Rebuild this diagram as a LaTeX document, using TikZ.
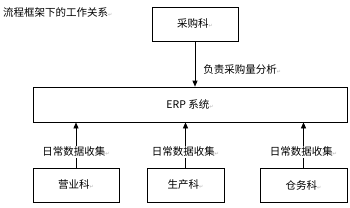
\documentclass[tikz,border=0pt]{standalone}
\usepackage{fontspec}
\setmainfont{Noto Sans CJK SC}
\newfontfamily\markfont{DejaVu Sans}
\usetikzlibrary{arrows.meta, positioning}

\newcommand{\retmk}{{\markfont\color{gray!60}\fontsize{5}{5}\selectfont ↵}}

\begin{document}
\begin{tikzpicture}[x=1pt,y=-1pt,
  dept/.style={rectangle,draw=black,line width=0.7pt, minimum width=86pt,minimum height=34pt,inner sep=0pt,align=center,font=\fontsize{10.5}{12}\selectfont},
  sys/.style={rectangle,draw=black,line width=0.7pt, minimum width=314pt,minimum height=35pt,inner sep=0pt,font=\fontsize{10.5}{12}\selectfont},
  lbl/.style={font=\fontsize{10.5}{12}\selectfont,inner sep=1pt},
  flow/.style={-{Triangle[length=6pt,width=5pt]},line width=0.7pt}
]
  \useasboundingbox (0,0) rectangle (350,207);
  \node[lbl,anchor=west](title) at (2,12) {流程框架下的工作关系\retmk};
  \node[dept](cg)  at (195,24)    {采购科\retmk};
  \node[sys](erp)  at (190,104.5) {ERP 系统\retmk};
  \node[dept](yy)  at (76,185)    {营业科\retmk};
  \node[dept, minimum width=77pt](sc) at (185.5,185) {生产科\retmk};
  \node[dept, minimum width=87pt](cw) at (303.5,185) {仓务科\retmk};

  \draw[flow](cg.south) -- node[lbl, right=7pt, pos=0.62]{负责采购量分析\retmk} (cg.south |- erp.north);
  \draw[flow](yy.north) -- node[lbl, fill=white, pos=0.35]{日常数据收集\retmk} (yy.north |- erp.south);
  \draw[flow](sc.north) -- node[lbl, fill=white, pos=0.35]{日常数据收集\retmk} (sc.north |- erp.south);
  \draw[flow](cw.north) -- node[lbl, fill=white, pos=0.35]{日常数据收集\retmk} (cw.north |- erp.south);
\end{tikzpicture}
\end{document}
